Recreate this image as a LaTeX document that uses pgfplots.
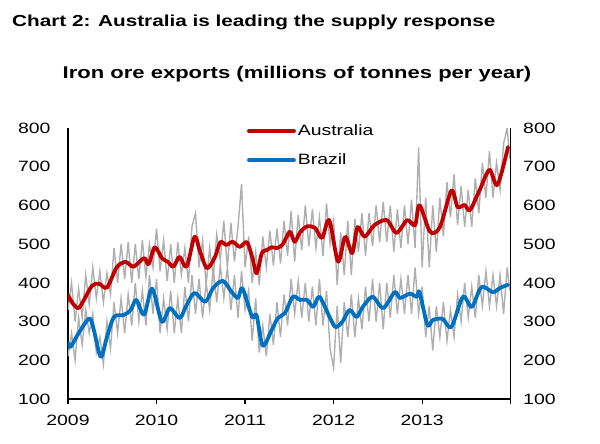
\documentclass[border=0pt]{standalone}
\usepackage{fontspec}
\setmainfont{Liberation Sans}[FakeStretch=1.3]
\usepackage{pgfplots}
\pgfplotsset{compat=1.18}
\definecolor{ausred}{RGB}{192,0,0}
\definecolor{brablue}{RGB}{0,112,192}
\definecolor{greyline}{RGB}{175,175,175}
\begin{document}
\begin{tikzpicture}
\useasboundingbox (-68bp,-45bp) rectangle (532bp,399bp);
\node[anchor=base west, inner sep=0pt, font=\fontsize{16}{19}\selectfont\bfseries] at (-56bp,372bp) {Chart 2: Australia is leading the supply response};
\node[anchor=base, inner sep=0pt, font=\fontsize{17}{20}\selectfont\bfseries] at (229bp,320bp) {Iron ore exports (millions of tonnes per year)};
\begin{axis}[
  at={(0,0)}, anchor=south west, scale only axis,
  width=442.7bp, height=271bp,
  xmin=2009, xmax=2014, ymin=100, ymax=800,
  axis x line*=bottom, axis y line*=left,
  axis line style={line width=1.3bp, black},
  xtick={2009,2010,2011,2012,2013,2014},
  xticklabels={2009,2010,2011,2012,2013,{}},
  ytick={100,200,300,400,500,600,700,800},
  tick align=outside, major tick length=5bp,
  xtick style={line width=1.3bp, black},
  ytick style={draw=none},
  /pgf/number format/assume math mode=true,
  /pgf/number format/1000 sep={},
  tick label style={font=\fontsize{15}{18}\selectfont},
  xticklabel style={yshift=-8bp},
  yticklabel style={xshift=-9bp},
  legend style={at={(0.404,1.02)}, anchor=north west, draw=none, fill=none,
    inner sep=0pt, font=\fontsize{15}{18}\selectfont, row sep=13bp},
  legend cell align=left,
  legend image code/.code={\draw[#1] (0bp,0bp) -- (45bp,0bp);},
]
\addplot[greyline, line width=1.4bp, forget plot] coordinates {
(2009.00,330)(2009.04,400)(2009.08,300)(2009.12,385)(2009.16,310)(2009.20,420)(2009.24,345)(2009.28,440)(2009.32,360)(2009.36,430)(2009.40,350)(2009.44,425)(2009.48,370)(2009.52,490)(2009.56,400)(2009.60,500)(2009.64,410)(2009.68,505)(2009.72,400)(2009.76,500)(2009.80,410)(2009.84,510)(2009.88,415)(2009.92,500)(2009.96,440)(2010.00,540)(2010.04,430)(2010.08,510)(2010.12,405)(2010.16,500)(2010.20,400)(2010.24,505)(2010.28,420)(2010.32,490)(2010.36,400)(2010.40,545)(2010.44,580)(2010.48,440)(2010.52,510)(2010.56,395)(2010.60,490)(2010.64,415)(2010.68,525)(2010.72,460)(2010.76,560)(2010.80,440)(2010.84,555)(2010.88,455)(2010.92,545)(2010.96,655)(2011.00,440)(2011.04,520)(2011.08,400)(2011.12,480)(2011.16,395)(2011.20,520)(2011.24,440)(2011.28,535)(2011.32,445)(2011.36,540)(2011.40,450)(2011.44,560)(2011.48,470)(2011.52,585)(2011.56,455)(2011.60,575)(2011.64,485)(2011.68,600)(2011.72,495)(2011.76,590)(2011.80,490)(2011.84,570)(2011.88,470)(2011.92,605)(2011.96,500)(2012.00,560)(2012.04,395)(2012.08,530)(2012.12,420)(2012.16,560)(2012.20,420)(2012.24,565)(2012.28,480)(2012.32,580)(2012.36,470)(2012.40,580)(2012.44,495)(2012.48,600)(2012.52,505)(2012.56,610)(2012.60,505)(2012.64,600)(2012.68,480)(2012.72,590)(2012.76,490)(2012.80,600)(2012.84,500)(2012.88,615)(2012.92,490)(2012.96,750)(2013.00,440)(2013.04,620)(2013.08,440)(2013.12,600)(2013.16,480)(2013.20,620)(2013.24,520)(2013.28,660)(2013.32,570)(2013.36,680)(2013.40,550)(2013.44,650)(2013.48,545)(2013.52,640)(2013.56,545)(2013.60,670)(2013.64,580)(2013.68,710)(2013.72,620)(2013.76,740)(2013.80,620)(2013.84,710)(2013.88,640)(2013.92,760)(2013.96,800)(2013.99,720)
};
\addplot[greyline, line width=1.4bp, forget plot] coordinates {
(2009.00,210)(2009.04,270)(2009.08,200)(2009.12,310)(2009.16,240)(2009.20,330)(2009.24,270)(2009.28,320)(2009.32,220)(2009.36,260)(2009.40,190)(2009.44,300)(2009.48,230)(2009.52,350)(2009.56,270)(2009.60,360)(2009.64,270)(2009.68,370)(2009.72,290)(2009.76,400)(2009.80,300)(2009.84,380)(2009.88,290)(2009.92,420)(2009.96,320)(2010.00,410)(2010.04,270)(2010.08,360)(2010.12,280)(2010.16,380)(2010.20,270)(2010.24,360)(2010.28,270)(2010.32,390)(2010.36,300)(2010.40,420)(2010.44,320)(2010.48,410)(2010.52,310)(2010.56,400)(2010.60,330)(2010.64,440)(2010.68,350)(2010.72,445)(2010.76,360)(2010.80,440)(2010.84,330)(2010.88,420)(2010.92,310)(2010.96,430)(2011.00,330)(2011.04,380)(2011.08,250)(2011.12,360)(2011.16,220)(2011.20,290)(2011.24,210)(2011.28,320)(2011.32,240)(2011.36,350)(2011.40,260)(2011.44,370)(2011.48,290)(2011.52,410)(2011.56,320)(2011.60,405)(2011.64,310)(2011.68,400)(2011.72,300)(2011.76,390)(2011.80,290)(2011.84,410)(2011.88,290)(2011.92,380)(2011.96,230)(2012.00,180)(2012.04,340)(2012.08,193)(2012.12,350)(2012.16,260)(2012.20,370)(2012.24,260)(2012.28,360)(2012.32,280)(2012.36,390)(2012.40,300)(2012.44,410)(2012.48,300)(2012.52,400)(2012.56,280)(2012.60,400)(2012.64,310)(2012.68,420)(2012.72,320)(2012.76,410)(2012.80,320)(2012.84,420)(2012.88,320)(2012.92,440)(2012.96,320)(2013.00,390)(2013.04,260)(2013.08,340)(2013.12,225)(2013.16,340)(2013.20,260)(2013.24,350)(2013.28,250)(2013.32,330)(2013.36,260)(2013.40,370)(2013.44,300)(2013.48,400)(2013.52,310)(2013.56,390)(2013.60,310)(2013.64,420)(2013.68,340)(2013.72,430)(2013.76,340)(2013.80,420)(2013.84,340)(2013.88,420)(2013.92,320)(2013.96,440)(2013.99,380)
};
\addplot[ausred, line width=3.8bp, smooth, tension=0.5, line join=round, line cap=round] coordinates {
(2009.00,368)(2009.06,345)(2009.12,335)(2009.18,356)(2009.27,392)(2009.35,398)(2009.44,388)(2009.55,440)(2009.65,454)(2009.74,442)(2009.86,464)(2009.91,448)(2009.98,492)(2010.06,464)(2010.13,454)(2010.19,442)(2010.26,467)(2010.34,442)(2010.43,519)(2010.49,482)(2010.57,438)(2010.66,467)(2010.72,505)(2010.79,498)(2010.86,506)(2010.94,493)(2011.02,505)(2011.08,467)(2011.13,425)(2011.19,477)(2011.25,485)(2011.30,492)(2011.36,490)(2011.42,498)(2011.47,519)(2011.51,532)(2011.56,506)(2011.62,530)(2011.70,546)(2011.79,542)(2011.87,516)(2011.95,562)(2012.05,455)(2012.13,519)(2012.21,477)(2012.27,544)(2012.35,519)(2012.46,549)(2012.60,562)(2012.71,529)(2012.83,562)(2012.92,549)(2012.97,601)(2013.09,532)(2013.20,544)(2013.33,638)(2013.40,596)(2013.48,601)(2013.54,588)(2013.65,640)(2013.76,692)(2013.85,653)(2013.97,751)
};
\addlegendentry{Australia}
\addplot[brablue, line width=3.8bp, smooth, tension=0.5, line join=round, line cap=round] coordinates {
(2009.00,245)(2009.03,235)(2009.12,270)(2009.24,308)(2009.29,280)(2009.37,209)(2009.44,260)(2009.52,312)(2009.63,317)(2009.71,330)(2009.77,356)(2009.86,318)(2009.95,385)(2010.06,300)(2010.15,335)(2010.26,309)(2010.34,343)(2010.43,374)(2010.55,351)(2010.64,387)(2010.75,405)(2010.85,376)(2010.92,361)(2010.97,386)(2011.08,312)(2011.13,316)(2011.20,238)(2011.30,278)(2011.37,309)(2011.45,322)(2011.54,364)(2011.62,356)(2011.70,356)(2011.77,338)(2011.84,364)(2011.95,314)(2012.02,286)(2012.10,300)(2012.18,330)(2012.26,312)(2012.33,338)(2012.44,364)(2012.56,335)(2012.69,376)(2012.75,361)(2012.86,372)(2012.94,364)(2012.97,376)(2013.06,291)(2013.12,304)(2013.23,307)(2013.33,286)(2013.46,364)(2013.56,338)(2013.67,389)(2013.80,376)(2013.88,387)(2013.97,395)
};
\addlegendentry{Brazil}
\end{axis}
\begin{axis}[
  at={(0,0)}, anchor=south west, scale only axis,
  width=442.7bp, height=271bp,
  xmin=2009, xmax=2014, ymin=100, ymax=800,
  axis y line*=right, axis x line=none,
  axis line style={line width=1.3bp, black},
  ytick={100,200,300,400,500,600,700,800},
  ytick style={draw=none},
  /pgf/number format/assume math mode=true,
  tick label style={font=\fontsize{15}{18}\selectfont},
  yticklabel style={xshift=9bp},
]
\end{axis}
\end{tikzpicture}
\end{document}
